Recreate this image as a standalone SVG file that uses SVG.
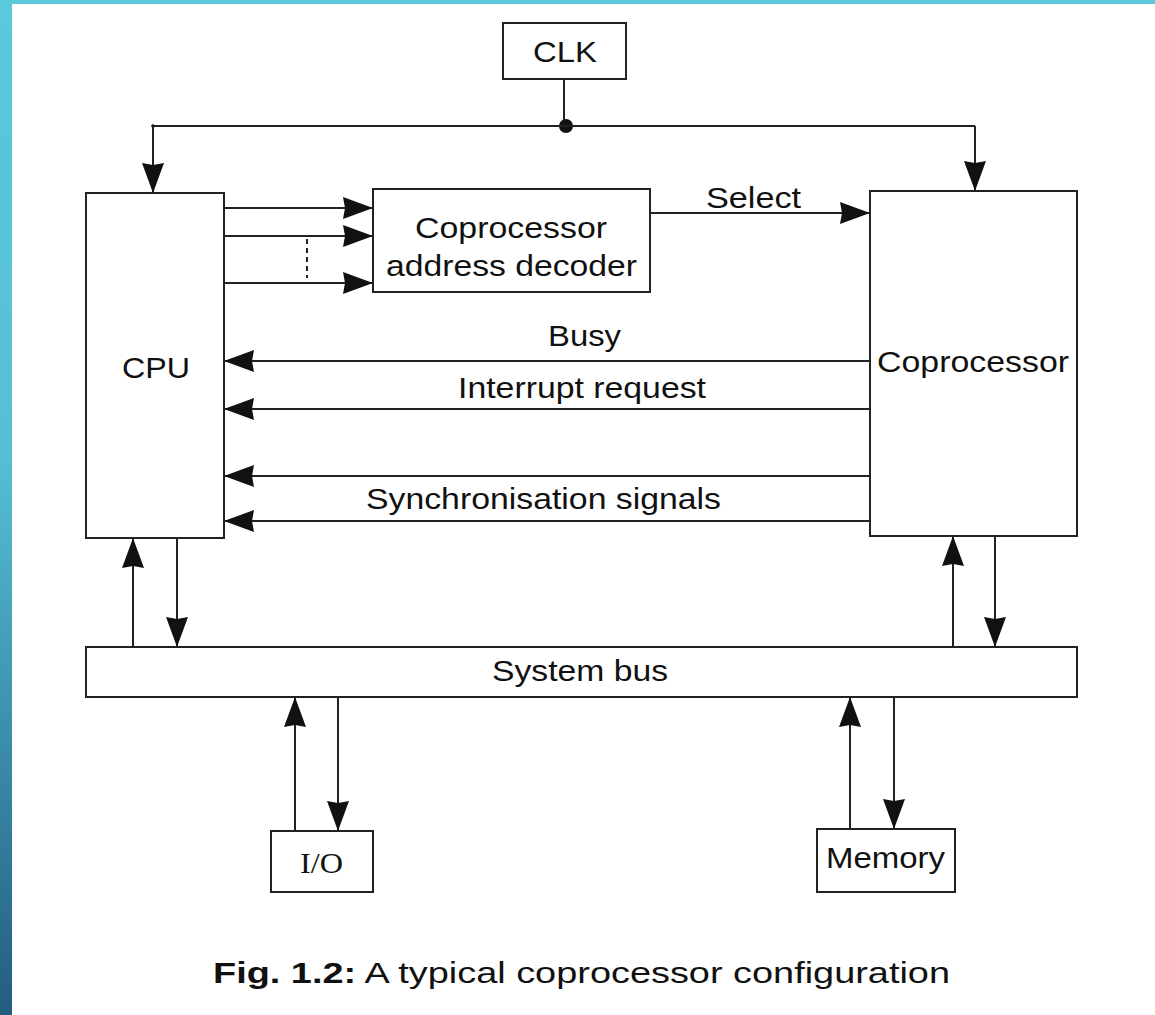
<svg xmlns="http://www.w3.org/2000/svg" width="1155" height="1015" viewBox="0 0 1155 1015">
  <defs>
    <linearGradient id="bar" x1="0" y1="0" x2="0" y2="1">
      <stop offset="0" stop-color="#5bc8dc"/>
      <stop offset="0.45" stop-color="#55bfd6"/>
      <stop offset="1" stop-color="#235d7f"/>
    </linearGradient>
    <marker id="arr" viewBox="0 0 30 22" markerUnits="userSpaceOnUse" markerWidth="30" markerHeight="22" refX="30" refY="11" orient="auto">
      <path d="M0,0 L30,11 L0,22 L2,11 Z" fill="#111"/>
    </marker>
    <style>
      .box { fill: #fff; stroke: #222; stroke-width: 2; }
      .ln { fill: none; stroke: #222; stroke-width: 2; }
      .ar { fill: none; stroke: #222; stroke-width: 2; marker-end: url(#arr); }
      .t { font-family: "Liberation Sans", Arial, sans-serif; font-size: 30px; fill: #111; }
      .ts { font-family: "Liberation Serif", "Times New Roman", serif; font-size: 30px; fill: #111; }
    </style>
  </defs>
  <rect x="0" y="0" width="1155" height="1015" fill="#fff"/>
  <rect x="0" y="0" width="1155" height="4" fill="#5bc8dc"/>
  <rect x="0" y="0" width="12" height="1015" fill="url(#bar)"/>

  <g id="connectors">
    <!-- clock distribution -->
    <path class="ln" d="M564,79 V126"/>
    <circle cx="566" cy="126" r="7" fill="#111"/>
    <path class="ln" d="M153,126 H975"/>
    <circle cx="153" cy="126" r="1.8" fill="#111"/>
    <path class="ar" d="M153,126 V193"/>
    <path class="ar" d="M975,126 V191"/>
    <!-- CPU to decoder -->
    <path class="ar" d="M224,208 H373"/>
    <path class="ar" d="M224,236 H373"/>
    <path class="ar" d="M224,283 H373"/>
    <path class="ln" d="M307,239 V278" stroke-dasharray="5,4"/>
    <!-- select -->
    <path class="ar" d="M650,213 H870"/>
    <!-- coprocessor to CPU -->
    <path class="ar" d="M870,361 H224"/>
    <path class="ar" d="M870,409 H224"/>
    <path class="ar" d="M870,476 H224"/>
    <path class="ar" d="M870,521 H224"/>
    <!-- CPU / bus -->
    <path class="ar" d="M133,647 V538"/>
    <path class="ar" d="M177,538 V647"/>
    <!-- Coprocessor / bus -->
    <path class="ar" d="M953,647 V536"/>
    <path class="ar" d="M995,533 V647"/>
    <!-- I/O -->
    <path class="ar" d="M295,831 V697"/>
    <path class="ar" d="M338,697 V831"/>
    <!-- Memory -->
    <path class="ar" d="M850,829 V697"/>
    <path class="ar" d="M894,697 V829"/>
    <!-- labels -->
    <text class="t" x="706" y="208" textLength="95" lengthAdjust="spacingAndGlyphs">Select</text>
    <text class="t" x="548" y="346" textLength="73" lengthAdjust="spacingAndGlyphs">Busy</text>
    <text class="t" x="458" y="398" textLength="248" lengthAdjust="spacingAndGlyphs">Interrupt request</text>
    <text class="t" x="366" y="509" textLength="355" lengthAdjust="spacingAndGlyphs">Synchronisation signals</text>
  </g>

  <g id="clk">
    <rect class="box" x="503" y="23" width="123" height="56"/>
    <text class="t" x="533" y="62" textLength="64" lengthAdjust="spacingAndGlyphs">CLK</text>
  </g>
  <g id="cpu">
    <rect class="box" x="86" y="193" width="138" height="345"/>
    <text class="t" x="122" y="378" textLength="68" lengthAdjust="spacingAndGlyphs">CPU</text>
  </g>
  <g id="decoder">
    <rect class="box" x="373" y="189" width="277" height="103"/>
    <text class="t" x="415" y="238" textLength="192" lengthAdjust="spacingAndGlyphs">Coprocessor</text>
    <text class="t" x="386" y="276" textLength="251" lengthAdjust="spacingAndGlyphs">address decoder</text>
  </g>
  <g id="coprocessor">
    <rect class="box" x="870" y="191" width="207" height="345"/>
    <text class="t" x="877" y="372" textLength="192" lengthAdjust="spacingAndGlyphs">Coprocessor</text>
  </g>
  <g id="systembus">
    <rect class="box" x="86" y="647" width="991" height="50"/>
    <text class="t" x="492" y="681" textLength="176" lengthAdjust="spacingAndGlyphs">System bus</text>
  </g>
  <g id="io">
    <rect class="box" x="271" y="831" width="102" height="61"/>
    <text class="ts" x="300" y="873" textLength="43" lengthAdjust="spacingAndGlyphs">I/O</text>
  </g>
  <g id="memory">
    <rect class="box" x="817" y="829" width="138" height="63"/>
    <text class="t" x="826" y="868" textLength="119" lengthAdjust="spacingAndGlyphs">Memory</text>
  </g>
  <g id="caption">
    <text class="t" x="213" y="983" textLength="737" lengthAdjust="spacingAndGlyphs"><tspan font-weight="bold">Fig. 1.2:</tspan> A typical coprocessor configuration</text>
  </g>
</svg>
